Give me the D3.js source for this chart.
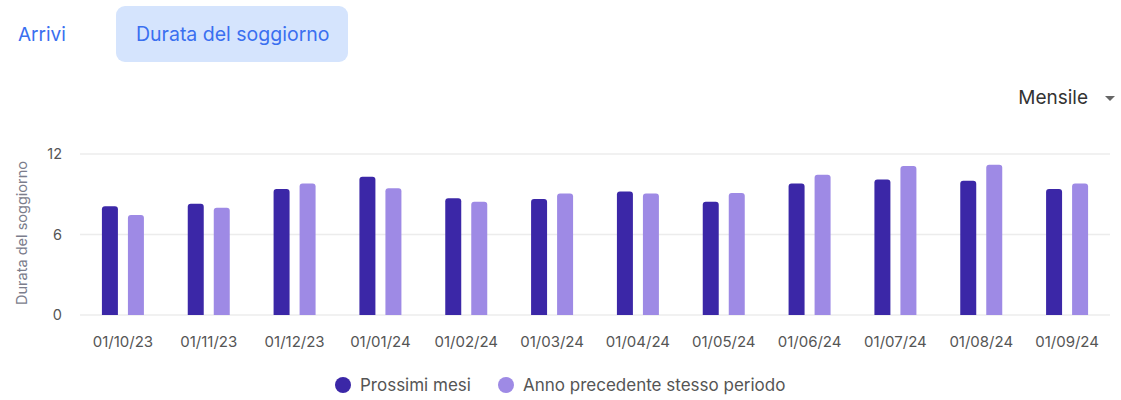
<!DOCTYPE html>
<html>
<head>
<meta charset="utf-8">
<script src="https://cdn.jsdelivr.net/npm/d3@7"></script>
<style>
	body { margin: 0; background: #fff; font-family: Inter, "Noto Sans", sans-serif; }
	svg { display: block; }
</style>
</head>
<body>
<div id="chart"></div>
<script>
var categories = ["01/10/23", "01/11/23", "01/12/23", "01/01/24", "01/02/24", "01/03/24",
	"01/04/24", "01/05/24", "01/06/24", "01/07/24", "01/08/24", "01/09/24"];
var seriesNames = ["Prossimi mesi", "Anno precedente stesso periodo"];
var prossimiMesi = [8.1, 8.3, 9.4, 10.3, 8.7, 8.65, 9.2, 8.45, 9.8, 10.1, 10.0, 9.4];
var annoPrecedente = [7.45, 8.0, 9.8, 9.45, 8.45, 9.05, 9.05, 9.1, 10.45, 11.1, 11.2, 9.8];
var yTicks = [0, 6, 12];
var colors = ["#3b27a7", "#9e8ae5"];

var width = 1121, height = 400;
var margin = {top: 154, right: 11, bottom: 85, left: 80};

var svg = d3.select("#chart").append("svg")
	.attr("width", width)
	.attr("height", height);

// tabs
svg.append("text")
	.attr("x", 18).attr("y", 41)
	.attr("fill", "#3a6ff0")
	.style("font-size", "19px")
	.text("Arrivi");
svg.append("rect")
	.attr("x", 116).attr("y", 6)
	.attr("width", 232).attr("height", 56)
	.attr("rx", 9)
	.attr("fill", "#d5e4fd");
svg.append("text")
	.attr("x", 136).attr("y", 41)
	.attr("fill", "#3a6ff0")
	.style("font-size", "19.5px")
	.text("Durata del soggiorno");

// dropdown
svg.append("text")
	.attr("x", 1088).attr("y", 104)
	.attr("text-anchor", "end")
	.attr("fill", "#333")
	.style("font-size", "19px")
	.text("Mensile");
svg.append("path")
	.attr("d", "M1105,96 L1115,96 L1110,101 Z")
	.attr("fill", "#666");

var x0 = d3.scaleBand()
	.domain(categories)
	.range([margin.left, width - margin.right]);
var x1 = d3.scaleBand()
	.domain(seriesNames)
	.range([0, 42])
	.paddingInner(0.385);
var y = d3.scaleLinear()
	.domain([0, 12])
	.range([height - margin.bottom, margin.top]);

// grid
svg.append("g").selectAll("line")
	.data(yTicks)
	.enter().append("line")
	.attr("x1", margin.left).attr("x2", width - margin.right)
	.attr("y1", function(d){ return y(d); })
	.attr("y2", function(d){ return y(d); })
	.attr("stroke", "#ececec")
	.attr("stroke-width", 1.5);

var yAxis = svg.append("g")
	.attr("transform", "translate(" + (margin.left - 18) + ",0)")
	.call(d3.axisLeft(y).tickValues(yTicks).tickSize(0).tickPadding(0));
yAxis.select(".domain").remove();
yAxis.selectAll("text")
	.attr("fill", "#555")
	.style("font-size", "14.5px")
	.style("font-family", "Inter, sans-serif");

svg.append("text")
	.attr("transform", "translate(27,233) rotate(-90)")
	.attr("text-anchor", "middle")
	.attr("fill", "#7b7d8c")
	.style("font-size", "14.5px")
	.text("Durata del soggiorno");

var xAxis = svg.append("g")
	.attr("transform", "translate(0," + (height - margin.bottom) + ")")
	.call(d3.axisBottom(x0).tickSize(0).tickPadding(21));
xAxis.select(".domain").remove();
xAxis.selectAll("text")
	.attr("fill", "#555")
	.style("font-size", "15px")
	.style("font-family", "Inter, sans-serif");

// bars with rounded tops
var r = 3;
function barPath(bx, by, bw, bh) {
	return "M" + bx + "," + (by + bh) +
		"V" + (by + r) +
		"Q" + bx + "," + by + " " + (bx + r) + "," + by +
		"H" + (bx + bw - r) +
		"Q" + (bx + bw) + "," + by + " " + (bx + bw) + "," + (by + r) +
		"V" + (by + bh) + "Z";
}

var rows = categories.map(function(c, i){
	return {cat: c, values: [prossimiMesi[i], annoPrecedente[i]]};
});

var groups = svg.append("g").selectAll("g")
	.data(rows)
	.enter().append("g")
	.attr("transform", function(d){ return "translate(" + (x0(d.cat) + x0.bandwidth() / 2 - 21) + ",0)"; });

groups.selectAll("path")
	.data(function(d){ return d.values.map(function(v, j){ return {name: seriesNames[j], value: v, j: j}; }); })
	.enter().append("path")
	.attr("d", function(d){
		return barPath(x1(d.name), y(d.value), x1.bandwidth(), y(0) - y(d.value));
	})
	.attr("fill", function(d){ return colors[d.j]; });

// legend
var legendX = [343, 506];
var legend = svg.append("g").selectAll("g")
	.data(seriesNames)
	.enter().append("g")
	.attr("transform", function(d, i){ return "translate(" + legendX[i] + ",385)"; });
legend.append("circle")
	.attr("r", 8)
	.attr("fill", function(d, i){ return colors[i]; });
legend.append("text")
	.attr("x", 17).attr("y", 5.5)
	.attr("fill", "#555")
	.style("font-size", "17px")
	.text(function(d){ return d; });
</script>
</body>
</html>
